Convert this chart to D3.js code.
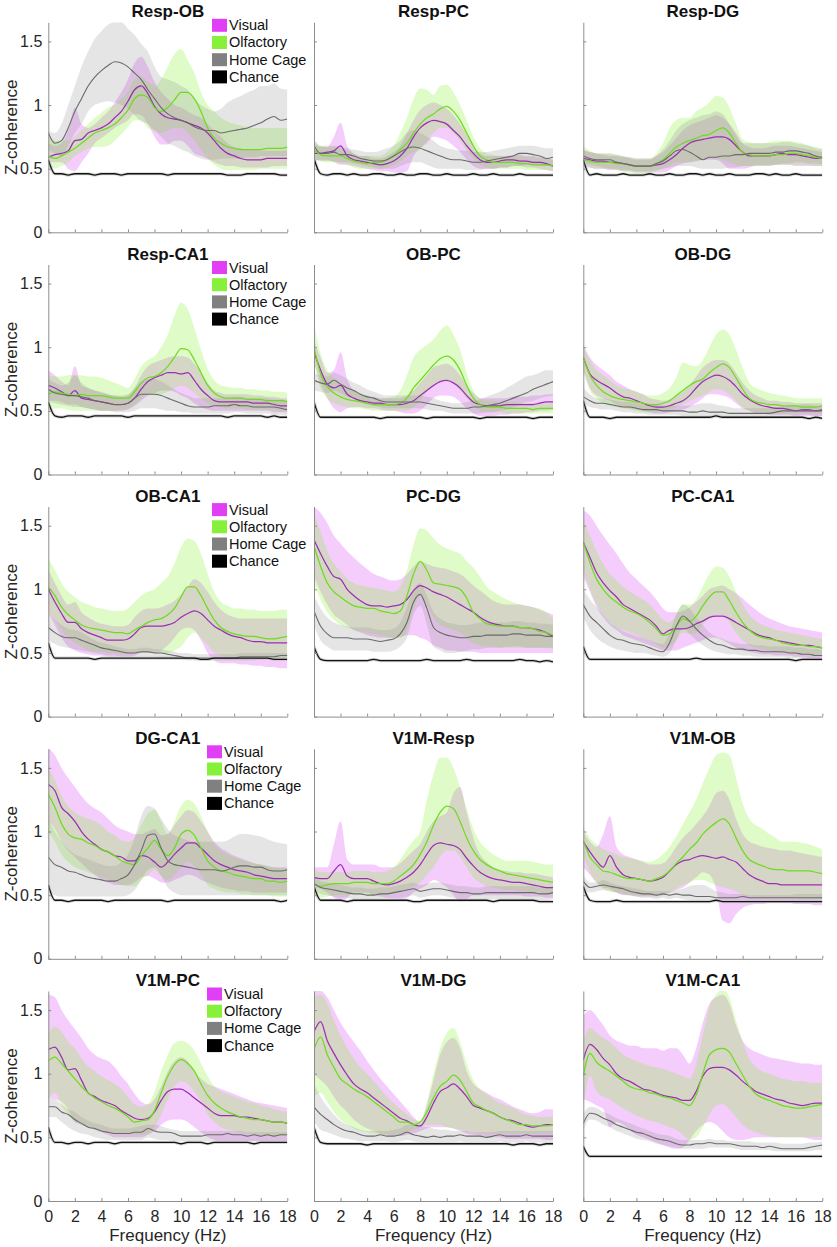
<!DOCTYPE html>
<html><head><meta charset="utf-8">
<script src="https://cdn.jsdelivr.net/npm/d3@7"></script>
<style>
html,body{margin:0;padding:0;background:#fff;}
svg{display:block;font-family:"Liberation Sans",Arial,Helvetica,sans-serif;}
</style></head>
<body>
<svg id="chart" width="837" height="1247"></svg>
<script>
// Frequency grid (Hz)
const freqs = [0,0.5,1,1.5,2,2.5,3,3.5,4,4.5,5,5.5,6,6.5,7,7.5,8,8.5,9,9.5,10,10.5,11,11.5,12,12.5,13,13.5,14,14.5,15,15.5,16,16.5,17,17.5,18];
const xTicks = [0,2,4,6,8,10,12,14,16,18];
const yTicks = [0,0.5,1,1.5];
const seriesNames = ["Visual","Olfactory","Home Cage","Chance"];
const panelTitles = ["Resp-OB","Resp-PC","Resp-DG","Resp-CA1","OB-PC","OB-DG","OB-CA1","PC-DG","PC-CA1","DG-CA1","V1M-Resp","V1M-OB","V1M-PC","V1M-DG","V1M-CA1"];

// ---- Resp-OB
const respOB_vis   = [0.59,0.61,0.62,0.64,0.72,0.73,0.78,0.80,0.82,0.85, 0.90,0.95,1.03,1.12,1.15,1.09,0.99,0.93,0.90,0.89, 0.88,0.86,0.84,0.82,0.78,0.72,0.66,0.62,0.60,0.58, 0.57,0.57,0.57,0.58,0.58,0.58,0.58];
const respOB_visHi = [0.70,0.68,0.70,0.80,0.98,0.85,0.82,0.85,0.90,0.95, 1.02,1.10,1.20,1.33,1.38,1.30,1.18,1.10,1.05,1.00, 0.98,0.95,0.92,0.90,0.85,0.80,0.75,0.70,0.67,0.66, 0.65,0.65,0.64,0.64,0.64,0.64,0.64];
const respOB_visLo = [0.55,0.55,0.55,0.50,0.48,0.55,0.62,0.70,0.74,0.78, 0.82,0.85,0.88,0.93,0.92,0.85,0.75,0.69,0.69,0.72, 0.72,0.68,0.62,0.60,0.58,0.55,0.53,0.52,0.52,0.51, 0.51,0.51,0.51,0.51,0.52,0.52,0.52];
const respOB_olf   = [0.60,0.58,0.60,0.63,0.66,0.70,0.74,0.78,0.80,0.82, 0.85,0.90,0.96,1.05,1.08,1.06,0.98,0.95,0.98,1.04, 1.10,1.10,1.05,0.95,0.82,0.74,0.70,0.67,0.66,0.65, 0.65,0.65,0.65,0.66,0.66,0.66,0.67];
const respOB_olfHi = [0.75,0.72,0.72,0.72,0.75,0.80,0.85,0.90,0.94,0.98, 1.00,1.05,1.10,1.20,1.22,1.18,1.15,1.20,1.30,1.40, 1.44,1.35,1.25,1.10,1.00,0.95,0.90,0.87,0.85,0.84, 0.83,0.82,0.82,0.82,0.82,0.82,0.82];
const respOB_olfLo = [0.52,0.50,0.52,0.55,0.60,0.63,0.66,0.67,0.67,0.68, 0.72,0.77,0.83,0.88,0.88,0.82,0.80,0.78,0.80,0.82, 0.82,0.78,0.72,0.65,0.58,0.53,0.50,0.49,0.49,0.49, 0.49,0.49,0.50,0.50,0.50,0.50,0.50];
const respOB_home  = [0.78,0.70,0.72,0.82,0.95,1.05,1.15,1.22,1.27,1.31, 1.34,1.33,1.30,1.25,1.20,1.12,1.05,0.98,0.93,0.90, 0.88,0.86,0.83,0.81,0.80,0.80,0.78,0.79,0.80,0.81, 0.82,0.84,0.86,0.89,0.91,0.88,0.89];
const respOB_homeHi= [0.80,0.78,0.85,1.00,1.15,1.30,1.42,1.52,1.58,1.63, 1.65,1.65,1.60,1.55,1.48,1.42,1.30,1.22,1.20,1.18, 1.15,1.12,1.05,1.00,0.97,0.95,0.97,1.02,1.05,1.07, 1.10,1.12,1.15,1.15,1.17,1.13,1.12];
const respOB_homeLo= [0.65,0.62,0.60,0.68,0.78,0.85,0.95,1.00,1.02,1.03, 1.02,1.00,0.97,0.92,0.87,0.85,0.80,0.75,0.70,0.68, 0.65,0.63,0.60,0.58,0.57,0.57,0.58,0.58,0.58,0.58, 0.59,0.59,0.60,0.60,0.60,0.60,0.60];
const respOB_chance= [0.57,0.46,0.46,0.45,0.46,0.46,0.46,0.45,0.46,0.46, 0.46,0.45,0.46,0.46,0.46,0.46,0.46,0.46,0.45,0.46, 0.46,0.46,0.46,0.46,0.46,0.46,0.46,0.45,0.45,0.45, 0.46,0.46,0.46,0.46,0.46,0.45,0.45];

// ---- Resp-PC
const respPC_vis   = [0.62,0.62,0.63,0.64,0.68,0.60,0.57,0.56,0.55,0.54, 0.53,0.54,0.56,0.60,0.66,0.75,0.82,0.86,0.88,0.87, 0.85,0.80,0.75,0.68,0.62,0.57,0.55,0.55,0.56,0.57, 0.57,0.56,0.56,0.55,0.55,0.54,0.52];
const respPC_visHi = [0.70,0.67,0.67,0.75,0.86,0.68,0.62,0.60,0.60,0.58, 0.58,0.60,0.63,0.68,0.78,0.88,0.96,1.00,1.02,1.00, 0.97,0.92,0.85,0.77,0.68,0.62,0.60,0.60,0.60,0.60, 0.61,0.61,0.60,0.60,0.59,0.58,0.57];
const respPC_visLo = [0.56,0.57,0.57,0.55,0.53,0.53,0.52,0.51,0.50,0.49, 0.48,0.48,0.47,0.47,0.48,0.60,0.66,0.70,0.75,0.74, 0.72,0.68,0.63,0.57,0.52,0.50,0.50,0.50,0.51,0.51, 0.52,0.52,0.51,0.51,0.50,0.49,0.48];
const respPC_olf   = [0.65,0.61,0.60,0.60,0.60,0.58,0.56,0.55,0.54,0.55, 0.55,0.57,0.60,0.65,0.70,0.78,0.85,0.90,0.93,0.97, 0.99,0.95,0.88,0.78,0.68,0.60,0.57,0.55,0.55,0.55, 0.55,0.54,0.54,0.53,0.53,0.53,0.52];
const respPC_olfHi = [0.72,0.68,0.67,0.67,0.66,0.64,0.62,0.60,0.60,0.60, 0.60,0.63,0.68,0.78,0.90,1.05,1.13,1.12,1.08,1.15, 1.16,1.10,1.00,0.88,0.75,0.66,0.62,0.61,0.60,0.60, 0.60,0.60,0.59,0.59,0.58,0.58,0.57];
const respPC_olfLo = [0.58,0.56,0.55,0.55,0.54,0.53,0.51,0.50,0.50,0.50, 0.50,0.51,0.53,0.56,0.60,0.63,0.66,0.72,0.78,0.82, 0.82,0.78,0.72,0.64,0.58,0.53,0.51,0.50,0.50,0.50, 0.50,0.50,0.49,0.49,0.49,0.49,0.48];
const respPC_home  = [0.68,0.62,0.62,0.63,0.61,0.61,0.60,0.58,0.57,0.56, 0.56,0.57,0.60,0.63,0.66,0.67,0.66,0.64,0.62,0.60, 0.58,0.57,0.57,0.56,0.55,0.55,0.56,0.57,0.58,0.59, 0.60,0.62,0.62,0.61,0.60,0.58,0.59];
const respPC_homeHi= [0.73,0.68,0.68,0.68,0.67,0.66,0.65,0.64,0.63,0.63, 0.64,0.66,0.68,0.72,0.78,0.80,0.78,0.75,0.72,0.68, 0.66,0.65,0.64,0.64,0.63,0.63,0.63,0.64,0.65,0.66, 0.67,0.68,0.68,0.68,0.67,0.66,0.66];
const respPC_homeLo= [0.58,0.56,0.56,0.56,0.55,0.55,0.54,0.53,0.52,0.51, 0.50,0.50,0.50,0.52,0.54,0.55,0.55,0.53,0.51,0.50, 0.50,0.50,0.50,0.49,0.49,0.49,0.50,0.50,0.51,0.51, 0.52,0.52,0.53,0.53,0.52,0.52,0.52];
const respPC_chance= [0.58,0.46,0.45,0.46,0.46,0.45,0.46,0.45,0.45,0.46, 0.46,0.45,0.45,0.46,0.45,0.45,0.46,0.46,0.45,0.45, 0.46,0.45,0.45,0.45,0.46,0.45,0.45,0.46,0.45,0.45, 0.45,0.46,0.45,0.45,0.45,0.45,0.45];

// ---- Resp-DG
const respDG_vis   = [0.58,0.57,0.56,0.56,0.55,0.55,0.54,0.53,0.52,0.52, 0.52,0.53,0.54,0.57,0.61,0.66,0.70,0.72,0.73,0.74, 0.75,0.75,0.73,0.68,0.63,0.60,0.60,0.60,0.60,0.61, 0.62,0.61,0.61,0.60,0.59,0.58,0.58];
const respDG_visHi = [0.65,0.63,0.62,0.61,0.60,0.60,0.59,0.59,0.58,0.58, 0.58,0.60,0.63,0.68,0.74,0.80,0.84,0.86,0.88,0.90, 0.92,0.90,0.85,0.78,0.70,0.67,0.66,0.66,0.67,0.68, 0.68,0.68,0.67,0.66,0.65,0.64,0.63];
const respDG_visLo = [0.52,0.51,0.50,0.50,0.49,0.49,0.48,0.48,0.47,0.47, 0.47,0.47,0.47,0.49,0.52,0.54,0.55,0.56,0.57,0.57, 0.57,0.54,0.50,0.50,0.50,0.51,0.52,0.52,0.52,0.53, 0.53,0.53,0.52,0.52,0.52,0.52,0.52];
const respDG_olf   = [0.57,0.56,0.55,0.55,0.55,0.54,0.54,0.53,0.52,0.52, 0.52,0.54,0.57,0.62,0.67,0.70,0.72,0.74,0.76,0.77, 0.80,0.82,0.78,0.70,0.63,0.61,0.60,0.60,0.60,0.61, 0.61,0.62,0.62,0.61,0.60,0.59,0.58];
const respDG_olfHi = [0.68,0.64,0.62,0.62,0.62,0.61,0.60,0.59,0.58,0.58, 0.58,0.62,0.70,0.82,0.88,0.90,0.90,0.95,0.98,1.02, 1.07,1.06,0.98,0.85,0.73,0.71,0.70,0.70,0.71,0.72, 0.72,0.72,0.71,0.70,0.68,0.67,0.66];
const respDG_olfLo = [0.52,0.51,0.50,0.50,0.50,0.49,0.48,0.47,0.46,0.46, 0.47,0.48,0.50,0.52,0.55,0.55,0.55,0.56,0.57,0.58, 0.58,0.57,0.55,0.53,0.52,0.52,0.52,0.52,0.52,0.53, 0.53,0.53,0.53,0.53,0.53,0.52,0.52];
const respDG_home  = [0.60,0.58,0.57,0.57,0.57,0.55,0.54,0.53,0.52,0.52, 0.52,0.54,0.56,0.60,0.64,0.65,0.63,0.60,0.57,0.59, 0.59,0.60,0.60,0.61,0.61,0.62,0.62,0.62,0.62,0.63, 0.63,0.64,0.64,0.63,0.62,0.60,0.59];
const respDG_homeHi= [0.64,0.63,0.62,0.62,0.62,0.61,0.60,0.58,0.57,0.57, 0.57,0.60,0.65,0.72,0.80,0.85,0.88,0.90,0.92,0.93, 0.95,0.93,0.85,0.76,0.70,0.70,0.70,0.70,0.70,0.70, 0.71,0.71,0.70,0.69,0.68,0.66,0.65];
const respDG_homeLo= [0.55,0.53,0.52,0.51,0.50,0.50,0.49,0.49,0.48,0.48, 0.48,0.49,0.50,0.51,0.52,0.52,0.52,0.51,0.50,0.50, 0.50,0.50,0.51,0.51,0.52,0.52,0.53,0.53,0.53,0.53, 0.54,0.54,0.55,0.55,0.54,0.54,0.53];
const respDG_chance= [0.57,0.45,0.46,0.45,0.45,0.45,0.46,0.45,0.45,0.45, 0.46,0.45,0.45,0.46,0.45,0.45,0.46,0.46,0.45,0.46, 0.45,0.45,0.46,0.45,0.45,0.45,0.46,0.46,0.45,0.46, 0.45,0.45,0.46,0.45,0.45,0.45,0.45];

// ---- Resp-CA1
const respCA1_vis   = [0.70,0.68,0.65,0.62,0.66,0.60,0.59,0.58,0.57,0.56, 0.55,0.55,0.56,0.60,0.67,0.73,0.76,0.78,0.80,0.80, 0.79,0.80,0.74,0.67,0.62,0.58,0.57,0.57,0.57,0.57, 0.57,0.56,0.56,0.56,0.55,0.54,0.54];
const respCA1_visHi = [0.82,0.78,0.73,0.70,0.85,0.70,0.68,0.66,0.65,0.63, 0.62,0.61,0.62,0.68,0.78,0.85,0.88,0.90,0.92,0.93, 0.93,0.92,0.87,0.80,0.72,0.66,0.64,0.63,0.63,0.63, 0.63,0.62,0.62,0.61,0.61,0.60,0.60];
const respCA1_visLo = [0.58,0.58,0.57,0.55,0.55,0.53,0.52,0.51,0.50,0.50, 0.50,0.50,0.51,0.54,0.58,0.62,0.64,0.66,0.66,0.65, 0.62,0.60,0.56,0.53,0.51,0.50,0.50,0.50,0.50,0.50, 0.50,0.50,0.50,0.50,0.49,0.49,0.49];
const respCA1_olf   = [0.63,0.65,0.64,0.63,0.62,0.63,0.62,0.62,0.62,0.61, 0.60,0.60,0.60,0.65,0.72,0.76,0.77,0.80,0.85,0.92, 0.99,0.98,0.90,0.80,0.70,0.64,0.61,0.60,0.60,0.60, 0.59,0.59,0.59,0.58,0.58,0.58,0.57];
const respCA1_olfHi = [0.78,0.77,0.77,0.78,0.78,0.78,0.77,0.77,0.76,0.74, 0.72,0.70,0.68,0.75,0.85,0.90,0.93,1.00,1.10,1.25, 1.35,1.30,1.15,0.98,0.83,0.74,0.70,0.69,0.68,0.68, 0.67,0.67,0.66,0.66,0.65,0.65,0.64];
const respCA1_olfLo = [0.50,0.52,0.52,0.51,0.50,0.50,0.50,0.50,0.50,0.50, 0.50,0.51,0.52,0.55,0.60,0.63,0.62,0.63,0.65,0.68, 0.70,0.68,0.64,0.60,0.56,0.54,0.53,0.52,0.52,0.52, 0.51,0.51,0.51,0.51,0.51,0.50,0.50];
const respCA1_home  = [0.67,0.64,0.63,0.62,0.62,0.61,0.60,0.58,0.57,0.56, 0.55,0.55,0.56,0.60,0.63,0.63,0.63,0.62,0.60,0.58, 0.56,0.54,0.53,0.53,0.53,0.54,0.54,0.54,0.55,0.54, 0.54,0.53,0.53,0.53,0.53,0.52,0.51];
const respCA1_homeHi= [0.75,0.72,0.70,0.72,0.78,0.72,0.68,0.66,0.64,0.63, 0.62,0.62,0.63,0.68,0.73,0.75,0.75,0.73,0.70,0.67, 0.64,0.62,0.60,0.60,0.60,0.60,0.60,0.60,0.61,0.61, 0.60,0.60,0.60,0.60,0.59,0.59,0.58];
const respCA1_homeLo= [0.58,0.56,0.55,0.54,0.53,0.53,0.52,0.51,0.50,0.50, 0.49,0.49,0.49,0.50,0.52,0.52,0.52,0.51,0.50,0.50, 0.49,0.49,0.48,0.48,0.48,0.48,0.48,0.48,0.49,0.49, 0.48,0.48,0.48,0.48,0.47,0.47,0.46];
const respCA1_chance= [0.57,0.46,0.45,0.46,0.46,0.46,0.45,0.46,0.46,0.46, 0.46,0.46,0.45,0.46,0.46,0.46,0.46,0.46,0.46,0.46, 0.46,0.46,0.46,0.46,0.46,0.46,0.46,0.45,0.46,0.46, 0.46,0.46,0.46,0.45,0.46,0.45,0.45];

// ---- OB-PC
const obPC_vis   = [0.96,0.82,0.71,0.68,0.70,0.63,0.60,0.58,0.57,0.56, 0.56,0.55,0.55,0.55,0.56,0.58,0.62,0.66,0.70,0.73, 0.74,0.72,0.68,0.62,0.57,0.55,0.54,0.54,0.54,0.55, 0.55,0.55,0.55,0.55,0.56,0.57,0.57];
const obPC_visHi = [1.05,0.92,0.80,0.82,0.96,0.75,0.66,0.63,0.62,0.61, 0.60,0.60,0.60,0.60,0.62,0.66,0.72,0.78,0.84,0.86, 0.87,0.84,0.78,0.70,0.64,0.60,0.60,0.60,0.60,0.60, 0.61,0.61,0.61,0.62,0.62,0.63,0.63];
const obPC_visLo = [0.88,0.72,0.60,0.52,0.49,0.52,0.53,0.53,0.52,0.52, 0.51,0.50,0.50,0.49,0.48,0.48,0.50,0.55,0.60,0.62, 0.62,0.61,0.57,0.52,0.48,0.46,0.46,0.46,0.47,0.47, 0.48,0.48,0.49,0.49,0.50,0.50,0.51];
const obPC_olf   = [1.00,0.79,0.69,0.64,0.61,0.59,0.58,0.57,0.56,0.55, 0.55,0.55,0.55,0.56,0.60,0.68,0.74,0.80,0.86,0.91, 0.93,0.90,0.82,0.70,0.60,0.55,0.53,0.53,0.53,0.52, 0.52,0.52,0.52,0.51,0.52,0.52,0.52];
const obPC_olfHi = [1.18,0.95,0.82,0.76,0.72,0.68,0.66,0.64,0.62,0.60, 0.60,0.60,0.61,0.66,0.78,0.92,0.98,1.02,1.06,1.13, 1.17,1.10,0.98,0.80,0.66,0.60,0.58,0.58,0.57,0.57, 0.57,0.56,0.56,0.56,0.56,0.56,0.56];
const obPC_olfLo = [0.88,0.68,0.60,0.56,0.54,0.53,0.52,0.52,0.51,0.50, 0.50,0.50,0.50,0.50,0.50,0.53,0.58,0.65,0.70,0.73, 0.74,0.72,0.66,0.60,0.54,0.50,0.49,0.49,0.49,0.48, 0.48,0.48,0.48,0.48,0.48,0.48,0.48];
const obPC_home  = [0.74,0.72,0.71,0.74,0.71,0.68,0.66,0.63,0.61,0.60, 0.58,0.57,0.57,0.57,0.57,0.57,0.57,0.56,0.55,0.54, 0.53,0.52,0.52,0.52,0.53,0.53,0.54,0.55,0.56,0.58, 0.60,0.62,0.64,0.67,0.69,0.71,0.73];
const obPC_homeHi= [0.80,0.78,0.77,0.80,0.78,0.75,0.72,0.70,0.67,0.65, 0.63,0.62,0.62,0.62,0.62,0.62,0.62,0.61,0.60,0.58, 0.57,0.56,0.56,0.57,0.58,0.59,0.61,0.63,0.65,0.68, 0.71,0.74,0.77,0.78,0.80,0.82,0.82];
const obPC_homeLo= [0.66,0.65,0.64,0.66,0.64,0.61,0.60,0.57,0.55,0.54, 0.53,0.52,0.52,0.52,0.52,0.52,0.52,0.51,0.50,0.50, 0.49,0.48,0.48,0.48,0.48,0.48,0.49,0.49,0.50,0.51, 0.53,0.55,0.57,0.58,0.60,0.61,0.62];
const obPC_chance= [0.57,0.45,0.45,0.45,0.45,0.45,0.45,0.45,0.45,0.45, 0.44,0.45,0.45,0.45,0.45,0.45,0.45,0.44,0.45,0.45, 0.45,0.45,0.45,0.45,0.45,0.44,0.45,0.45,0.45,0.45, 0.45,0.45,0.45,0.44,0.45,0.45,0.45];

// ---- OB-DG
const obDG_vis   = [0.92,0.79,0.74,0.71,0.68,0.64,0.61,0.60,0.58,0.56, 0.54,0.53,0.53,0.54,0.56,0.58,0.62,0.68,0.73,0.76, 0.78,0.77,0.74,0.69,0.63,0.59,0.56,0.54,0.53,0.52, 0.52,0.51,0.50,0.50,0.50,0.50,0.51];
const obDG_visHi = [1.02,0.92,0.86,0.82,0.78,0.73,0.70,0.67,0.65,0.63, 0.60,0.59,0.58,0.59,0.62,0.65,0.70,0.77,0.84,0.88, 0.90,0.90,0.87,0.80,0.72,0.66,0.62,0.60,0.58,0.58, 0.57,0.57,0.56,0.56,0.56,0.56,0.56];
const obDG_visLo = [0.82,0.68,0.62,0.60,0.58,0.55,0.53,0.52,0.51,0.50, 0.49,0.48,0.48,0.49,0.50,0.51,0.53,0.56,0.60,0.63, 0.63,0.62,0.60,0.56,0.52,0.50,0.48,0.48,0.47,0.47, 0.47,0.47,0.46,0.46,0.46,0.46,0.46];
const obDG_olf   = [0.92,0.78,0.70,0.65,0.62,0.60,0.59,0.58,0.57,0.56, 0.55,0.55,0.56,0.58,0.62,0.66,0.70,0.73,0.75,0.80, 0.84,0.87,0.84,0.76,0.67,0.60,0.57,0.56,0.55,0.55, 0.54,0.54,0.54,0.53,0.53,0.53,0.54];
const obDG_olfHi = [1.00,0.90,0.82,0.78,0.74,0.70,0.68,0.67,0.65,0.63, 0.62,0.62,0.64,0.68,0.76,0.88,0.86,0.85,0.90,1.00, 1.10,1.14,1.10,0.98,0.84,0.72,0.68,0.66,0.64,0.63, 0.62,0.61,0.60,0.60,0.60,0.60,0.60];
const obDG_olfLo = [0.82,0.66,0.60,0.56,0.54,0.53,0.52,0.51,0.50,0.49, 0.49,0.49,0.50,0.51,0.53,0.55,0.58,0.60,0.62,0.65, 0.67,0.66,0.63,0.58,0.53,0.50,0.49,0.49,0.48,0.48, 0.48,0.48,0.48,0.48,0.48,0.48,0.48];
const obDG_home  = [0.61,0.58,0.56,0.56,0.55,0.54,0.53,0.53,0.52,0.51, 0.51,0.51,0.50,0.50,0.50,0.50,0.49,0.49,0.50,0.49, 0.49,0.49,0.48,0.48,0.48,0.48,0.48,0.48,0.48,0.49, 0.50,0.50,0.50,0.51,0.51,0.50,0.50];
const obDG_homeHi= [0.68,0.63,0.60,0.60,0.59,0.58,0.57,0.57,0.56,0.55, 0.55,0.55,0.54,0.54,0.54,0.54,0.54,0.55,0.56,0.56, 0.55,0.54,0.53,0.52,0.52,0.52,0.52,0.52,0.52,0.53, 0.53,0.54,0.54,0.55,0.55,0.54,0.54];
const obDG_homeLo= [0.56,0.53,0.52,0.51,0.51,0.50,0.49,0.49,0.48,0.48, 0.47,0.47,0.47,0.47,0.47,0.46,0.46,0.45,0.45,0.45, 0.45,0.45,0.44,0.44,0.44,0.44,0.44,0.44,0.45,0.45, 0.46,0.46,0.46,0.47,0.47,0.46,0.46];
const obDG_chance= [0.58,0.45,0.45,0.45,0.44,0.45,0.45,0.45,0.45,0.45, 0.45,0.45,0.45,0.45,0.45,0.45,0.45,0.45,0.45,0.45, 0.46,0.45,0.45,0.45,0.45,0.45,0.45,0.45,0.45,0.45, 0.45,0.45,0.45,0.45,0.44,0.45,0.44];

// ---- OB-CA1
const obCA1_vis   = [1.00,0.90,0.81,0.74,0.74,0.69,0.66,0.64,0.62,0.60, 0.60,0.60,0.61,0.65,0.70,0.71,0.71,0.71,0.72,0.74, 0.78,0.81,0.83,0.81,0.76,0.71,0.68,0.65,0.63,0.62, 0.60,0.59,0.59,0.58,0.58,0.58,0.58];
const obCA1_visHi = [1.15,1.05,0.95,0.88,0.90,0.82,0.78,0.75,0.73,0.72, 0.71,0.71,0.72,0.78,0.83,0.85,0.85,0.86,0.88,0.91, 0.96,1.02,1.08,1.05,0.98,0.90,0.84,0.80,0.78,0.77, 0.77,0.77,0.77,0.77,0.77,0.77,0.77];
const obCA1_visLo = [0.82,0.72,0.62,0.55,0.52,0.50,0.49,0.48,0.48,0.47, 0.47,0.47,0.47,0.48,0.50,0.50,0.50,0.52,0.56,0.62, 0.68,0.70,0.68,0.60,0.50,0.44,0.42,0.42,0.42,0.41, 0.41,0.40,0.40,0.39,0.39,0.38,0.38];
const obCA1_olf   = [1.02,0.95,0.86,0.80,0.76,0.72,0.70,0.69,0.68,0.67, 0.66,0.66,0.65,0.68,0.71,0.74,0.76,0.77,0.80,0.85, 0.94,1.02,1.02,0.95,0.85,0.76,0.70,0.67,0.65,0.64, 0.63,0.63,0.62,0.61,0.61,0.62,0.63];
const obCA1_olfHi = [1.24,1.15,1.05,0.98,0.94,0.90,0.88,0.86,0.85,0.84, 0.83,0.83,0.85,0.90,0.95,0.98,1.00,1.05,1.10,1.20, 1.33,1.40,1.38,1.28,1.12,0.98,0.90,0.87,0.85,0.85, 0.84,0.84,0.83,0.83,0.83,0.84,0.84];
const obCA1_olfLo = [0.82,0.76,0.68,0.62,0.58,0.55,0.52,0.51,0.51,0.50, 0.50,0.49,0.49,0.50,0.50,0.50,0.50,0.50,0.50,0.52, 0.55,0.62,0.66,0.62,0.56,0.50,0.48,0.47,0.47,0.46, 0.46,0.46,0.45,0.45,0.45,0.45,0.45];
const obCA1_home  = [0.70,0.66,0.63,0.62,0.62,0.60,0.58,0.56,0.54,0.53, 0.52,0.51,0.50,0.50,0.51,0.51,0.50,0.50,0.49,0.48, 0.47,0.46,0.46,0.46,0.46,0.46,0.46,0.46,0.46,0.47, 0.47,0.47,0.47,0.47,0.47,0.48,0.48];
const obCA1_homeHi= [0.82,0.76,0.72,0.69,0.68,0.66,0.63,0.60,0.58,0.57, 0.55,0.54,0.53,0.53,0.54,0.54,0.53,0.53,0.52,0.51, 0.50,0.50,0.49,0.49,0.49,0.49,0.49,0.49,0.49,0.50, 0.50,0.50,0.50,0.50,0.50,0.50,0.50];
const obCA1_homeLo= [0.60,0.57,0.55,0.54,0.53,0.52,0.51,0.50,0.49,0.48, 0.48,0.47,0.47,0.47,0.47,0.47,0.47,0.46,0.46,0.45, 0.45,0.44,0.44,0.44,0.44,0.44,0.44,0.44,0.44,0.44, 0.44,0.44,0.45,0.45,0.45,0.45,0.45];
const obCA1_chance= [0.58,0.46,0.46,0.46,0.46,0.46,0.46,0.45,0.46,0.46, 0.46,0.46,0.46,0.46,0.46,0.46,0.46,0.46,0.46,0.46, 0.46,0.46,0.46,0.45,0.45,0.46,0.46,0.46,0.46,0.46, 0.46,0.46,0.46,0.46,0.45,0.45,0.45];

// ---- PC-DG
const pcDG_vis   = [1.39,1.28,1.18,1.10,1.08,1.00,0.95,0.91,0.88,0.87, 0.87,0.86,0.87,0.88,0.92,0.99,1.03,1.01,0.98,0.96, 0.94,0.91,0.88,0.85,0.82,0.78,0.75,0.73,0.72,0.71, 0.71,0.70,0.70,0.69,0.68,0.66,0.63];
const pcDG_visHi = [1.65,1.60,1.52,1.42,1.36,1.30,1.25,1.20,1.16,1.12, 1.10,1.08,1.07,1.08,1.12,1.18,1.22,1.20,1.18,1.17, 1.16,1.14,1.12,1.08,1.03,0.99,0.95,0.91,0.89,0.88, 0.88,0.88,0.87,0.86,0.84,0.82,0.80];
const pcDG_visLo = [1.10,0.98,0.88,0.80,0.76,0.72,0.68,0.66,0.64,0.63, 0.62,0.62,0.62,0.63,0.64,0.64,0.62,0.60,0.56,0.54, 0.52,0.52,0.51,0.51,0.51,0.50,0.50,0.50,0.50,0.50, 0.50,0.50,0.50,0.50,0.50,0.50,0.50];
const pcDG_olf   = [1.34,1.18,1.05,0.98,0.94,0.90,0.87,0.86,0.85,0.85, 0.83,0.82,0.81,0.83,0.95,1.12,1.22,1.15,1.05,1.04, 1.03,1.02,1.00,0.93,0.82,0.77,0.73,0.72,0.71,0.71, 0.71,0.70,0.70,0.69,0.67,0.66,0.64];
const pcDG_olfHi = [1.60,1.45,1.30,1.20,1.14,1.08,1.05,1.03,1.02,1.01, 1.00,0.99,0.98,1.02,1.15,1.35,1.48,1.46,1.40,1.35, 1.32,1.30,1.28,1.22,1.17,1.10,1.02,0.98,0.95,0.92, 0.90,0.88,0.87,0.86,0.85,0.82,0.77];
const pcDG_olfLo = [1.05,0.92,0.82,0.76,0.72,0.70,0.68,0.67,0.66,0.65, 0.64,0.63,0.62,0.62,0.68,0.85,0.95,0.88,0.78,0.72, 0.70,0.68,0.66,0.62,0.58,0.56,0.55,0.55,0.54,0.54, 0.54,0.54,0.54,0.54,0.54,0.54,0.53];
const pcDG_home  = [0.83,0.71,0.65,0.62,0.62,0.62,0.61,0.61,0.61,0.60, 0.59,0.60,0.61,0.65,0.74,0.90,0.96,0.85,0.70,0.66, 0.64,0.63,0.62,0.62,0.63,0.63,0.64,0.64,0.64,0.64, 0.65,0.65,0.64,0.64,0.64,0.63,0.63];
const pcDG_homeHi= [0.95,0.85,0.78,0.74,0.72,0.71,0.70,0.70,0.70,0.69, 0.68,0.68,0.69,0.74,0.86,1.00,1.05,0.95,0.82,0.77, 0.74,0.73,0.72,0.72,0.73,0.74,0.74,0.74,0.74,0.74, 0.75,0.75,0.74,0.74,0.73,0.73,0.72];
const pcDG_homeLo= [0.72,0.60,0.55,0.52,0.52,0.52,0.52,0.52,0.52,0.51, 0.51,0.51,0.52,0.55,0.62,0.80,0.87,0.72,0.55,0.52, 0.50,0.50,0.51,0.52,0.53,0.53,0.54,0.54,0.54,0.55, 0.55,0.55,0.54,0.54,0.54,0.54,0.54];
const pcDG_chance= [0.55,0.45,0.44,0.44,0.44,0.44,0.44,0.44,0.44,0.45, 0.44,0.44,0.44,0.44,0.44,0.44,0.44,0.45,0.44,0.44, 0.44,0.44,0.44,0.45,0.44,0.44,0.44,0.44,0.44,0.44, 0.44,0.45,0.44,0.44,0.43,0.44,0.43];

// ---- PC-CA1
const pcCA1_vis   = [1.37,1.25,1.13,1.05,0.99,0.94,0.88,0.85,0.82,0.79, 0.76,0.71,0.65,0.68,0.69,0.69,0.70,0.73,0.75,0.78, 0.79,0.79,0.77,0.74,0.71,0.68,0.65,0.63,0.62,0.60, 0.59,0.58,0.57,0.56,0.56,0.55,0.54];
const pcCA1_visHi = [1.62,1.58,1.50,1.42,1.35,1.28,1.20,1.13,1.08,1.03, 0.98,0.92,0.85,0.82,0.82,0.83,0.86,0.90,0.95,1.00, 1.02,1.03,1.00,0.97,0.93,0.88,0.84,0.80,0.77,0.75, 0.73,0.71,0.70,0.69,0.68,0.67,0.66];
const pcCA1_visLo = [1.10,0.98,0.86,0.78,0.72,0.68,0.64,0.62,0.60,0.58, 0.56,0.54,0.52,0.52,0.52,0.54,0.56,0.58,0.60,0.62, 0.62,0.60,0.57,0.54,0.52,0.51,0.50,0.49,0.49,0.48, 0.48,0.48,0.47,0.47,0.46,0.46,0.46];
const pcCA1_olf   = [1.37,1.21,1.08,1.00,0.94,0.90,0.86,0.83,0.81,0.78, 0.74,0.69,0.64,0.65,0.71,0.77,0.75,0.79,0.87,0.94, 0.98,0.98,0.91,0.82,0.74,0.68,0.64,0.62,0.61,0.60, 0.58,0.57,0.56,0.56,0.55,0.55,0.54];
const pcCA1_olfHi = [1.55,1.42,1.30,1.20,1.12,1.07,1.02,0.98,0.95,0.92, 0.88,0.82,0.76,0.74,0.80,0.88,0.88,0.92,1.02,1.12, 1.18,1.17,1.10,0.98,0.88,0.80,0.75,0.72,0.70,0.68, 0.67,0.66,0.65,0.64,0.63,0.62,0.61];
const pcCA1_olfLo = [1.15,1.00,0.88,0.80,0.74,0.70,0.68,0.66,0.64,0.62, 0.60,0.57,0.54,0.55,0.60,0.66,0.65,0.66,0.72,0.77, 0.80,0.80,0.74,0.66,0.60,0.56,0.54,0.53,0.52,0.51, 0.50,0.50,0.49,0.49,0.48,0.48,0.48];
const pcCA1_home  = [0.88,0.79,0.74,0.69,0.64,0.61,0.60,0.58,0.57,0.56, 0.54,0.52,0.51,0.58,0.71,0.79,0.75,0.69,0.64,0.60, 0.57,0.56,0.54,0.53,0.53,0.52,0.52,0.51,0.51,0.51, 0.51,0.50,0.50,0.49,0.49,0.48,0.48];
const pcCA1_homeHi= [1.00,0.92,0.86,0.80,0.74,0.70,0.67,0.65,0.63,0.62, 0.60,0.58,0.57,0.66,0.80,0.88,0.85,0.78,0.72,0.66, 0.63,0.61,0.59,0.58,0.57,0.57,0.56,0.56,0.55,0.55, 0.55,0.55,0.54,0.54,0.53,0.53,0.52];
const pcCA1_homeLo= [0.78,0.68,0.62,0.58,0.55,0.53,0.52,0.51,0.50,0.50, 0.49,0.48,0.47,0.50,0.60,0.70,0.65,0.60,0.56,0.53, 0.51,0.50,0.49,0.49,0.48,0.48,0.47,0.47,0.47,0.47, 0.47,0.46,0.46,0.46,0.45,0.45,0.44];
const pcCA1_chance= [0.55,0.45,0.45,0.45,0.45,0.45,0.45,0.45,0.45,0.45, 0.45,0.45,0.45,0.45,0.45,0.45,0.45,0.46,0.45,0.45, 0.45,0.45,0.45,0.45,0.45,0.45,0.45,0.45,0.45,0.45, 0.45,0.45,0.44,0.45,0.45,0.45,0.45];

// ---- DG-CA1
const dgCA1_vis   = [1.37,1.32,1.19,1.14,1.08,1.00,0.94,0.90,0.86,0.84, 0.81,0.80,0.77,0.77,0.81,0.80,0.76,0.72,0.76,0.82, 0.87,0.91,0.91,0.87,0.82,0.77,0.74,0.72,0.70,0.69, 0.68,0.66,0.65,0.64,0.63,0.63,0.63];
const dgCA1_visHi = [1.66,1.60,1.50,1.42,1.35,1.28,1.22,1.18,1.15,1.10, 1.05,1.02,1.00,0.98,0.98,1.00,1.02,0.97,0.98,1.05, 1.12,1.17,1.15,1.08,1.00,0.92,0.87,0.84,0.81,0.79, 0.77,0.75,0.74,0.73,0.72,0.72,0.72];
const dgCA1_visLo = [1.08,1.02,0.92,0.85,0.80,0.75,0.70,0.66,0.62,0.60, 0.58,0.58,0.58,0.60,0.64,0.65,0.63,0.60,0.60,0.62, 0.64,0.66,0.65,0.62,0.60,0.58,0.56,0.55,0.54,0.53, 0.53,0.52,0.52,0.52,0.52,0.52,0.52];
const dgCA1_olf   = [1.29,1.19,1.06,0.98,0.95,0.94,0.91,0.89,0.86,0.84, 0.81,0.77,0.75,0.74,0.81,0.87,0.93,0.86,0.81,0.87, 0.98,1.01,0.97,0.87,0.77,0.72,0.69,0.68,0.66,0.65, 0.64,0.63,0.63,0.61,0.61,0.60,0.61];
const dgCA1_olfHi = [1.50,1.40,1.28,1.20,1.15,1.12,1.10,1.08,1.05,1.00, 0.97,0.93,0.92,0.95,1.05,1.14,1.17,1.08,0.98,1.08, 1.20,1.25,1.22,1.12,1.00,0.90,0.85,0.82,0.80,0.78, 0.76,0.75,0.74,0.73,0.72,0.71,0.71];
const dgCA1_olfLo = [1.00,0.92,0.82,0.76,0.72,0.70,0.68,0.66,0.64,0.62, 0.60,0.58,0.57,0.57,0.62,0.66,0.70,0.65,0.62,0.66, 0.72,0.76,0.73,0.66,0.58,0.55,0.53,0.52,0.52,0.51, 0.51,0.50,0.50,0.50,0.49,0.49,0.49];
const dgCA1_home  = [0.80,0.74,0.72,0.69,0.68,0.66,0.64,0.63,0.62,0.61, 0.61,0.63,0.66,0.74,0.85,0.97,0.98,0.87,0.77,0.74, 0.73,0.72,0.71,0.70,0.70,0.70,0.69,0.70,0.72,0.73, 0.73,0.72,0.72,0.70,0.69,0.69,0.70];
const dgCA1_homeHi= [1.10,1.00,0.92,0.86,0.82,0.80,0.78,0.76,0.74,0.73, 0.73,0.76,0.82,0.95,1.12,1.20,1.18,1.10,1.02,0.97, 0.95,0.93,0.92,0.92,0.92,0.92,0.92,0.93,0.96,0.98, 0.98,0.97,0.96,0.94,0.92,0.91,0.90];
const dgCA1_homeLo= [0.55,0.50,0.49,0.49,0.49,0.49,0.49,0.49,0.49,0.49, 0.49,0.49,0.50,0.54,0.62,0.70,0.72,0.65,0.56,0.52, 0.50,0.50,0.50,0.50,0.50,0.50,0.50,0.50,0.50,0.50, 0.50,0.50,0.50,0.50,0.50,0.50,0.50];
const dgCA1_chance= [0.58,0.46,0.46,0.45,0.46,0.46,0.46,0.46,0.46,0.45, 0.46,0.46,0.46,0.46,0.46,0.46,0.46,0.46,0.45,0.46, 0.46,0.46,0.46,0.46,0.46,0.46,0.46,0.46,0.46,0.46, 0.46,0.46,0.46,0.46,0.46,0.45,0.46];

// ---- V1M-Resp
const v1mResp_vis   = [0.64,0.63,0.63,0.69,0.74,0.65,0.63,0.63,0.63,0.61, 0.59,0.58,0.59,0.61,0.64,0.68,0.74,0.82,0.89,0.91, 0.90,0.89,0.86,0.79,0.73,0.68,0.65,0.63,0.62,0.61, 0.60,0.60,0.59,0.58,0.57,0.56,0.56];
const v1mResp_visHi = [0.72,0.72,0.72,0.90,1.08,0.78,0.74,0.74,0.74,0.74, 0.72,0.72,0.72,0.75,0.80,0.85,0.90,1.00,1.08,1.12, 1.15,1.30,1.35,1.15,0.95,0.82,0.76,0.72,0.70,0.69, 0.68,0.68,0.67,0.67,0.66,0.65,0.64];
const v1mResp_visLo = [0.56,0.55,0.52,0.48,0.45,0.48,0.52,0.52,0.52,0.50, 0.49,0.48,0.47,0.47,0.48,0.52,0.55,0.58,0.62,0.60, 0.56,0.50,0.45,0.47,0.50,0.50,0.50,0.50,0.50,0.50, 0.50,0.50,0.49,0.49,0.49,0.48,0.48];
const v1mResp_olf   = [0.59,0.57,0.58,0.59,0.59,0.59,0.60,0.60,0.60,0.59, 0.59,0.59,0.61,0.65,0.69,0.74,0.82,0.92,1.05,1.15, 1.20,1.18,1.08,0.95,0.85,0.78,0.74,0.71,0.69,0.67, 0.66,0.65,0.64,0.63,0.62,0.61,0.60];
const v1mResp_olfHi = [0.70,0.68,0.68,0.68,0.68,0.68,0.69,0.69,0.69,0.68, 0.68,0.69,0.72,0.78,0.86,0.93,1.00,1.25,1.45,1.58, 1.58,1.50,1.35,1.18,1.02,0.92,0.86,0.82,0.79,0.77, 0.77,0.77,0.77,0.76,0.75,0.74,0.74];
const v1mResp_olfLo = [0.50,0.48,0.49,0.50,0.50,0.50,0.51,0.51,0.51,0.50, 0.50,0.51,0.52,0.53,0.55,0.57,0.60,0.66,0.72,0.80, 0.85,0.85,0.80,0.72,0.64,0.60,0.57,0.56,0.55,0.54, 0.54,0.53,0.53,0.52,0.52,0.51,0.50];
const v1mResp_home  = [0.59,0.56,0.55,0.54,0.53,0.52,0.51,0.51,0.50,0.50, 0.51,0.51,0.52,0.53,0.54,0.55,0.53,0.54,0.55,0.55, 0.54,0.53,0.52,0.52,0.51,0.51,0.52,0.52,0.52,0.52, 0.52,0.52,0.52,0.52,0.51,0.51,0.52];
const v1mResp_homeHi= [0.64,0.61,0.60,0.59,0.58,0.57,0.56,0.56,0.55,0.55, 0.56,0.56,0.57,0.58,0.59,0.60,0.58,0.59,0.60,0.60, 0.59,0.58,0.57,0.57,0.56,0.56,0.57,0.57,0.57,0.57, 0.57,0.57,0.57,0.57,0.56,0.56,0.57];
const v1mResp_homeLo= [0.54,0.51,0.50,0.49,0.48,0.48,0.47,0.47,0.46,0.46, 0.47,0.47,0.48,0.48,0.49,0.50,0.48,0.49,0.50,0.50, 0.49,0.48,0.47,0.47,0.46,0.46,0.47,0.47,0.47,0.47, 0.47,0.47,0.47,0.47,0.46,0.46,0.47];
const v1mResp_chance= [0.57,0.46,0.46,0.46,0.46,0.45,0.46,0.46,0.46,0.46, 0.46,0.46,0.46,0.46,0.46,0.45,0.45,0.46,0.46,0.46, 0.46,0.46,0.46,0.46,0.46,0.46,0.46,0.45,0.46,0.46, 0.46,0.46,0.46,0.46,0.45,0.45,0.45];

// ---- V1M-OB
const v1mOB_vis   = [0.92,0.84,0.77,0.72,0.81,0.72,0.66,0.64,0.63,0.62, 0.61,0.62,0.64,0.69,0.74,0.77,0.78,0.80,0.81,0.80, 0.79,0.80,0.78,0.76,0.71,0.66,0.63,0.61,0.59,0.59, 0.58,0.58,0.58,0.58,0.58,0.58,0.58];
const v1mOB_visHi = [1.00,0.92,0.88,0.98,1.12,0.88,0.82,0.80,0.78,0.76, 0.74,0.74,0.75,0.80,0.88,0.95,1.00,1.06,1.12,1.20, 1.30,1.32,1.25,1.10,0.98,0.92,0.90,0.88,0.87,0.86, 0.85,0.85,0.84,0.83,0.82,0.81,0.80];
const v1mOB_visLo = [0.72,0.66,0.60,0.56,0.55,0.52,0.50,0.50,0.49,0.49, 0.49,0.49,0.50,0.52,0.54,0.56,0.60,0.64,0.68,0.66, 0.55,0.30,0.28,0.35,0.40,0.42,0.43,0.43,0.44,0.44, 0.44,0.44,0.43,0.43,0.43,0.42,0.42];
const v1mOB_olf   = [0.93,0.80,0.74,0.69,0.68,0.66,0.64,0.63,0.63,0.62, 0.61,0.63,0.65,0.69,0.75,0.80,0.86,0.91,0.98,1.03, 1.07,1.10,1.06,0.95,0.85,0.78,0.75,0.73,0.71,0.70, 0.70,0.69,0.69,0.69,0.69,0.68,0.67];
const v1mOB_olfHi = [1.03,0.95,0.90,0.86,0.84,0.82,0.80,0.79,0.78,0.77, 0.76,0.78,0.82,0.88,0.96,1.06,1.15,1.25,1.38,1.50, 1.60,1.62,1.60,1.42,1.22,1.10,1.05,1.02,0.98,0.95, 0.92,0.92,0.92,0.91,0.90,0.88,0.86];
const v1mOB_olfLo = [0.82,0.68,0.60,0.55,0.53,0.52,0.51,0.50,0.50,0.50, 0.50,0.50,0.50,0.52,0.55,0.58,0.60,0.62,0.62,0.60, 0.58,0.56,0.55,0.53,0.50,0.49,0.49,0.48,0.48,0.48, 0.48,0.48,0.48,0.47,0.47,0.47,0.47];
const v1mOB_home  = [0.61,0.56,0.57,0.58,0.57,0.56,0.55,0.53,0.52,0.51, 0.51,0.50,0.51,0.50,0.51,0.50,0.50,0.49,0.49,0.49, 0.48,0.48,0.48,0.48,0.49,0.48,0.48,0.48,0.48,0.48, 0.48,0.48,0.48,0.48,0.48,0.48,0.48];
const v1mOB_homeHi= [0.66,0.60,0.60,0.62,0.60,0.58,0.57,0.56,0.55,0.54, 0.53,0.53,0.53,0.53,0.54,0.55,0.57,0.58,0.58,0.56, 0.53,0.52,0.51,0.51,0.51,0.50,0.50,0.50,0.50,0.50, 0.50,0.50,0.51,0.51,0.51,0.51,0.51];
const v1mOB_homeLo= [0.55,0.52,0.53,0.54,0.53,0.52,0.51,0.50,0.49,0.48, 0.48,0.47,0.48,0.47,0.48,0.47,0.46,0.45,0.45,0.45, 0.45,0.45,0.45,0.45,0.46,0.45,0.45,0.45,0.45,0.45, 0.45,0.45,0.45,0.45,0.45,0.45,0.45];
const v1mOB_chance= [0.57,0.46,0.45,0.45,0.45,0.46,0.45,0.45,0.45,0.45, 0.45,0.45,0.45,0.45,0.45,0.45,0.45,0.45,0.45,0.45, 0.46,0.45,0.45,0.45,0.45,0.45,0.45,0.45,0.45,0.45, 0.45,0.45,0.45,0.45,0.45,0.45,0.45];

// ---- V1M-PC
const v1mPC_vis   = [1.19,1.21,1.13,1.03,1.04,0.95,0.85,0.82,0.79,0.77, 0.75,0.71,0.68,0.65,0.64,0.65,0.70,0.79,0.86,0.88, 0.88,0.85,0.81,0.77,0.73,0.69,0.67,0.67,0.67,0.66, 0.66,0.65,0.64,0.63,0.62,0.62,0.61];
const v1mPC_visHi = [1.62,1.60,1.50,1.42,1.35,1.28,1.20,1.15,1.12,1.10, 1.05,0.98,0.92,0.84,0.78,0.76,0.80,0.90,1.02,1.10, 1.13,1.10,1.02,0.96,0.92,0.90,0.88,0.86,0.84,0.82, 0.80,0.78,0.77,0.76,0.75,0.74,0.73];
const v1mPC_visLo = [0.82,0.80,0.78,0.72,0.62,0.60,0.58,0.56,0.54,0.52, 0.50,0.50,0.50,0.50,0.50,0.52,0.55,0.60,0.63,0.64, 0.64,0.62,0.58,0.54,0.50,0.48,0.47,0.47,0.47,0.47, 0.47,0.47,0.47,0.47,0.47,0.47,0.47];
const v1mPC_olf   = [1.10,1.13,1.08,1.02,0.96,0.90,0.85,0.81,0.78,0.75, 0.73,0.70,0.66,0.62,0.63,0.64,0.71,0.85,0.98,1.07, 1.11,1.08,1.02,0.92,0.83,0.77,0.73,0.70,0.68,0.66, 0.65,0.64,0.64,0.63,0.62,0.62,0.61];
const v1mPC_olfHi = [1.32,1.37,1.33,1.25,1.20,1.12,1.06,1.02,0.98,0.95, 0.92,0.88,0.82,0.76,0.74,0.76,0.86,1.02,1.15,1.24, 1.26,1.24,1.18,1.08,0.98,0.90,0.86,0.84,0.82,0.80, 0.78,0.77,0.75,0.74,0.72,0.71,0.70];
const v1mPC_olfLo = [0.80,0.85,0.75,0.68,0.62,0.60,0.58,0.56,0.55,0.54, 0.53,0.53,0.53,0.52,0.52,0.53,0.58,0.68,0.80,0.90, 0.94,0.92,0.86,0.78,0.68,0.62,0.58,0.56,0.55,0.54, 0.53,0.52,0.52,0.51,0.51,0.51,0.51];
const v1mPC_home  = [0.74,0.74,0.70,0.68,0.64,0.61,0.58,0.57,0.55,0.54, 0.53,0.53,0.53,0.54,0.54,0.57,0.55,0.54,0.54,0.53, 0.51,0.51,0.51,0.51,0.52,0.52,0.52,0.53,0.52,0.52, 0.51,0.52,0.51,0.52,0.51,0.52,0.52];
const v1mPC_homeHi= [0.82,0.80,0.76,0.72,0.70,0.66,0.63,0.61,0.60,0.58, 0.57,0.57,0.57,0.58,0.59,0.60,0.60,0.59,0.57,0.56, 0.55,0.55,0.55,0.55,0.55,0.55,0.55,0.55,0.55,0.55, 0.54,0.54,0.54,0.54,0.54,0.54,0.54];
const v1mPC_homeLo= [0.66,0.66,0.62,0.58,0.55,0.53,0.52,0.50,0.49,0.48, 0.48,0.48,0.48,0.48,0.48,0.50,0.49,0.48,0.48,0.47, 0.47,0.47,0.47,0.47,0.47,0.47,0.47,0.47,0.47,0.47, 0.47,0.47,0.47,0.47,0.47,0.47,0.47];
const v1mPC_chance= [0.58,0.46,0.46,0.45,0.46,0.46,0.45,0.46,0.46,0.46, 0.45,0.46,0.46,0.46,0.46,0.46,0.46,0.46,0.46,0.46, 0.45,0.46,0.46,0.46,0.45,0.46,0.46,0.46,0.46,0.46, 0.46,0.45,0.46,0.46,0.46,0.46,0.46];

// ---- V1M-DG
const v1mDG_vis   = [1.33,1.41,1.26,1.16,1.07,0.99,0.92,0.88,0.85,0.81, 0.77,0.73,0.69,0.65,0.63,0.60,0.59,0.66,0.77,0.86, 0.89,0.92,0.88,0.82,0.75,0.73,0.71,0.69,0.66,0.64, 0.63,0.61,0.59,0.58,0.59,0.60,0.60];
const v1mDG_visHi = [1.65,1.65,1.60,1.50,1.40,1.32,1.25,1.18,1.10,1.03, 0.96,0.90,0.84,0.78,0.72,0.66,0.62,0.75,0.95,1.15, 1.25,1.28,1.20,1.02,0.92,0.88,0.85,0.82,0.80,0.77, 0.74,0.72,0.70,0.69,0.70,0.72,0.72];
const v1mDG_visLo = [1.00,0.95,0.90,0.82,0.75,0.70,0.64,0.60,0.57,0.55, 0.53,0.52,0.51,0.51,0.52,0.53,0.55,0.57,0.58,0.58, 0.58,0.57,0.55,0.53,0.52,0.51,0.50,0.50,0.50,0.49, 0.49,0.49,0.49,0.49,0.49,0.48,0.48];
const v1mDG_olf   = [1.19,1.29,1.15,1.05,0.96,0.92,0.88,0.85,0.82,0.78, 0.74,0.70,0.66,0.62,0.62,0.60,0.62,0.70,0.81,0.90, 0.94,0.99,0.95,0.86,0.77,0.74,0.71,0.69,0.66,0.64, 0.62,0.60,0.60,0.59,0.59,0.59,0.60];
const v1mDG_olfHi = [1.60,1.62,1.55,1.42,1.30,1.20,1.12,1.05,1.00,0.94, 0.88,0.82,0.77,0.72,0.68,0.64,0.63,0.78,1.00,1.20, 1.32,1.36,1.25,1.08,0.95,0.88,0.84,0.80,0.77,0.75, 0.73,0.70,0.68,0.67,0.66,0.66,0.66];
const v1mDG_olfLo = [0.82,0.85,0.78,0.70,0.64,0.60,0.57,0.55,0.54,0.53, 0.52,0.52,0.52,0.52,0.54,0.56,0.58,0.60,0.60,0.60, 0.58,0.57,0.56,0.55,0.54,0.53,0.53,0.53,0.53,0.53, 0.53,0.53,0.53,0.53,0.53,0.53,0.53];
const v1mDG_home  = [0.74,0.68,0.64,0.60,0.57,0.55,0.54,0.52,0.51,0.51, 0.52,0.51,0.51,0.52,0.54,0.52,0.51,0.50,0.51,0.50, 0.51,0.51,0.52,0.51,0.51,0.51,0.50,0.51,0.52,0.51, 0.51,0.51,0.52,0.51,0.51,0.51,0.51];
const v1mDG_homeHi= [0.92,0.82,0.74,0.68,0.63,0.60,0.58,0.56,0.55,0.55, 0.55,0.55,0.56,0.57,0.60,0.60,0.59,0.58,0.57,0.56, 0.56,0.55,0.55,0.55,0.54,0.54,0.54,0.54,0.55,0.55, 0.55,0.55,0.55,0.55,0.55,0.55,0.55];
const v1mDG_homeLo= [0.62,0.56,0.54,0.52,0.50,0.49,0.48,0.47,0.47,0.47, 0.47,0.47,0.46,0.47,0.48,0.47,0.46,0.46,0.46,0.46, 0.46,0.46,0.47,0.46,0.46,0.46,0.46,0.46,0.47,0.46, 0.46,0.46,0.47,0.46,0.46,0.46,0.46];
const v1mDG_chance= [0.58,0.46,0.45,0.45,0.45,0.45,0.45,0.45,0.44,0.45, 0.45,0.45,0.45,0.45,0.45,0.45,0.45,0.45,0.45,0.45, 0.45,0.45,0.45,0.45,0.45,0.45,0.45,0.45,0.45,0.45, 0.44,0.45,0.45,0.45,0.44,0.45,0.45];

// ---- V1M-CA1
const v1mCA1_vis   = [1.11,1.23,1.19,1.12,1.07,1.00,0.96,0.94,0.91,0.88, 0.87,0.85,0.83,0.82,0.81,0.79,0.79,0.86,0.98,1.04, 1.05,1.05,1.03,0.99,0.94,0.90,0.86,0.84,0.82,0.80, 0.79,0.77,0.76,0.75,0.76,0.77,0.77];
const v1mCA1_visHi = [1.45,1.50,1.45,1.38,1.30,1.26,1.24,1.22,1.22,1.20, 1.20,1.20,1.18,1.20,1.20,1.15,1.08,1.20,1.40,1.55, 1.60,1.62,1.55,1.38,1.26,1.20,1.17,1.15,1.13,1.12, 1.11,1.10,1.09,1.08,1.08,1.07,1.07];
const v1mCA1_visLo = [0.80,0.78,0.75,0.72,0.58,0.62,0.60,0.56,0.52,0.50, 0.48,0.46,0.44,0.42,0.41,0.42,0.48,0.55,0.60,0.62, 0.60,0.55,0.50,0.48,0.48,0.49,0.50,0.50,0.50,0.50, 0.50,0.50,0.50,0.50,0.49,0.48,0.48];
const v1mCA1_olf   = [0.98,1.16,1.09,1.05,1.02,0.98,0.94,0.90,0.88,0.87, 0.85,0.84,0.82,0.81,0.79,0.77,0.75,0.83,1.00,1.15, 1.19,1.20,1.17,1.08,0.99,0.90,0.84,0.81,0.79,0.77, 0.75,0.74,0.73,0.73,0.74,0.75,0.76];
const v1mCA1_olfHi = [1.25,1.36,1.32,1.28,1.25,1.20,1.15,1.12,1.10,1.08, 1.06,1.05,1.04,1.02,1.00,0.98,0.96,1.08,1.30,1.52, 1.62,1.66,1.60,1.42,1.25,1.12,1.05,1.02,1.00,0.98, 0.96,0.95,0.94,0.94,0.93,0.93,0.93];
const v1mCA1_olfLo = [0.75,0.98,0.86,0.82,0.80,0.76,0.73,0.70,0.67,0.65, 0.63,0.62,0.60,0.58,0.56,0.52,0.48,0.50,0.58,0.68, 0.75,0.76,0.72,0.66,0.60,0.56,0.54,0.52,0.51,0.50, 0.50,0.50,0.50,0.50,0.50,0.50,0.50];
const v1mCA1_home  = [0.61,0.69,0.68,0.65,0.63,0.60,0.58,0.56,0.54,0.53, 0.51,0.49,0.48,0.47,0.45,0.44,0.44,0.45,0.45,0.46, 0.45,0.45,0.45,0.44,0.43,0.43,0.43,0.42,0.43,0.42, 0.41,0.41,0.41,0.41,0.42,0.43,0.44];
const v1mCA1_homeHi= [0.68,0.74,0.73,0.70,0.68,0.65,0.63,0.61,0.59,0.57, 0.55,0.53,0.52,0.51,0.49,0.48,0.48,0.48,0.48,0.49, 0.48,0.48,0.47,0.47,0.47,0.47,0.46,0.46,0.46,0.46, 0.45,0.45,0.45,0.45,0.46,0.46,0.47];
const v1mCA1_homeLo= [0.55,0.64,0.63,0.60,0.58,0.55,0.53,0.51,0.49,0.48, 0.47,0.45,0.44,0.43,0.42,0.41,0.41,0.41,0.41,0.42, 0.42,0.42,0.42,0.41,0.40,0.40,0.40,0.40,0.40,0.39, 0.39,0.39,0.39,0.39,0.39,0.40,0.40];
const v1mCA1_chance= [0.43,0.35,0.35,0.35,0.35,0.35,0.35,0.35,0.35,0.35, 0.35,0.35,0.35,0.35,0.35,0.35,0.35,0.35,0.35,0.35, 0.35,0.35,0.35,0.35,0.35,0.35,0.35,0.35,0.35,0.35, 0.35,0.35,0.35,0.35,0.35,0.35,0.35];

// Panel table (order = reading order, 3 columns x 5 rows)
const panelData = [
  [respOB_vis,respOB_visLo,respOB_visHi, respOB_olf,respOB_olfLo,respOB_olfHi, respOB_home,respOB_homeLo,respOB_homeHi, respOB_chance],
  [respPC_vis,respPC_visLo,respPC_visHi, respPC_olf,respPC_olfLo,respPC_olfHi, respPC_home,respPC_homeLo,respPC_homeHi, respPC_chance],
  [respDG_vis,respDG_visLo,respDG_visHi, respDG_olf,respDG_olfLo,respDG_olfHi, respDG_home,respDG_homeLo,respDG_homeHi, respDG_chance],
  [respCA1_vis,respCA1_visLo,respCA1_visHi, respCA1_olf,respCA1_olfLo,respCA1_olfHi, respCA1_home,respCA1_homeLo,respCA1_homeHi, respCA1_chance],
  [obPC_vis,obPC_visLo,obPC_visHi, obPC_olf,obPC_olfLo,obPC_olfHi, obPC_home,obPC_homeLo,obPC_homeHi, obPC_chance],
  [obDG_vis,obDG_visLo,obDG_visHi, obDG_olf,obDG_olfLo,obDG_olfHi, obDG_home,obDG_homeLo,obDG_homeHi, obDG_chance],
  [obCA1_vis,obCA1_visLo,obCA1_visHi, obCA1_olf,obCA1_olfLo,obCA1_olfHi, obCA1_home,obCA1_homeLo,obCA1_homeHi, obCA1_chance],
  [pcDG_vis,pcDG_visLo,pcDG_visHi, pcDG_olf,pcDG_olfLo,pcDG_olfHi, pcDG_home,pcDG_homeLo,pcDG_homeHi, pcDG_chance],
  [pcCA1_vis,pcCA1_visLo,pcCA1_visHi, pcCA1_olf,pcCA1_olfLo,pcCA1_olfHi, pcCA1_home,pcCA1_homeLo,pcCA1_homeHi, pcCA1_chance],
  [dgCA1_vis,dgCA1_visLo,dgCA1_visHi, dgCA1_olf,dgCA1_olfLo,dgCA1_olfHi, dgCA1_home,dgCA1_homeLo,dgCA1_homeHi, dgCA1_chance],
  [v1mResp_vis,v1mResp_visLo,v1mResp_visHi, v1mResp_olf,v1mResp_olfLo,v1mResp_olfHi, v1mResp_home,v1mResp_homeLo,v1mResp_homeHi, v1mResp_chance],
  [v1mOB_vis,v1mOB_visLo,v1mOB_visHi, v1mOB_olf,v1mOB_olfLo,v1mOB_olfHi, v1mOB_home,v1mOB_homeLo,v1mOB_homeHi, v1mOB_chance],
  [v1mPC_vis,v1mPC_visLo,v1mPC_visHi, v1mPC_olf,v1mPC_olfLo,v1mPC_olfHi, v1mPC_home,v1mPC_homeLo,v1mPC_homeHi, v1mPC_chance],
  [v1mDG_vis,v1mDG_visLo,v1mDG_visHi, v1mDG_olf,v1mDG_olfLo,v1mDG_olfHi, v1mDG_home,v1mDG_homeLo,v1mDG_homeHi, v1mDG_chance],
  [v1mCA1_vis,v1mCA1_visLo,v1mCA1_visHi, v1mCA1_olf,v1mCA1_olfLo,v1mCA1_olfHi, v1mCA1_home,v1mCA1_homeLo,v1mCA1_homeHi, v1mCA1_chance]
];

// ---------- layout & style ----------
const colX = [48.3, 314, 583.3];
const rowBase = [232.3, 474.5, 716.6, 958.8, 1201];
const axW = 239, axH = 210;
const legendX = [212, 212, 212, 207, 207];
const bandFill = ["#d53cf2", "#7ef02c", "#8a8a8a"];
const bandOpacity = [0.26, 0.26, 0.22];
const lineColor = ["#9b2fb4", "#6edc1e", "#6a6a6a", "#121212"];
const swatchColor = ["#e03ff5", "#86f03a", "#808080", "#000000"];
const axisColor = "#8d8d8d";
const textColor = "#262626";

const svg = d3.select("#chart");
const x = d3.scaleLinear().domain([0, 18]).range([0, axW]);
const y = d3.scaleLinear().domain([0, 1.65]).range([axH, 0]);

const errs = [];
panelData.forEach((arrs, p) => {
  arrs.forEach((a, k) => { if (a.length !== freqs.length) errs.push(panelTitles[p] + " array " + k + " len " + a.length); });
});

panelData.forEach((arrs, p) => {
  const col = p % 3, row = Math.floor(p / 3);
  const g = svg.append("g").attr("transform", `translate(${colX[col]},${rowBase[row] - axH})`);
  const clipId = "clip" + p;
  g.append("clipPath").attr("id", clipId).append("rect").attr("x", 0).attr("y", 0).attr("width", axW).attr("height", axH);
  const plot = g.append("g").attr("clip-path", `url(#${clipId})`);

  // bands: visual, olfactory, home cage
  for (let s = 0; s < 3; s++) {
    const lo = arrs[s * 3 + 1], hi = arrs[s * 3 + 2];
    const area = d3.area()
      .x((d, i) => x(freqs[i]))
      .y0((d, i) => y(lo[i]))
      .y1((d, i) => y(hi[i]))
      .curve(d3.curveMonotoneX);
    plot.append("path").datum(freqs).attr("d", area)
      .attr("fill", bandFill[s]).attr("fill-opacity", bandOpacity[s]).attr("stroke", "none");
  }
  // chance: faint halo band + line
  const chance = arrs[9];
  const cLine = d3.line().x((d, i) => x(freqs[i])).y(d => y(d)).curve(d3.curveMonotoneX);
  plot.append("path").datum(chance).attr("d", cLine).attr("fill", "none")
    .attr("stroke", "#c4c4c4").attr("stroke-width", 3.2).attr("stroke-opacity", 0.7);

  // mean lines
  const meanIdx = [0, 3, 6];
  meanIdx.forEach((mi, s) => {
    plot.append("path").datum(arrs[mi]).attr("d", cLine).attr("fill", "none")
      .attr("stroke", lineColor[s]).attr("stroke-width", s === 2 ? 1.1 : 1.25).attr("stroke-linejoin", "round");
  });
  plot.append("path").datum(chance).attr("d", cLine).attr("fill", "none")
    .attr("stroke", lineColor[3]).attr("stroke-width", 1.3);

  // axes (MATLAB style, ticks inside)
  const xAxis = d3.axisBottom(x).tickValues(xTicks).tickSize(-3).tickSizeOuter(0).tickPadding(6)
    .tickFormat(row === 4 ? d3.format("d") : () => "");
  const gx = g.append("g").attr("transform", `translate(0,${axH})`).call(xAxis);
  const yAxis = d3.axisLeft(y).tickValues(yTicks).tickSize(-3).tickSizeOuter(0).tickPadding(6)
    .tickFormat(col === 0 ? (d => String(d)) : () => "");
  const gy = g.append("g").call(yAxis);
  [gx, gy].forEach(ax => {
    ax.select(".domain").attr("stroke", axisColor).attr("stroke-width", 1);
    ax.selectAll(".tick line").attr("stroke", axisColor);
    ax.selectAll(".tick text").attr("fill", textColor)
      .style("font-family", '"Liberation Sans", Arial, sans-serif').style("font-size", "16px");
  });
  gx.selectAll(".tick text").attr("dy", "0.95em");

  // title
  g.append("text").attr("x", axW / 2).attr("y", -5).attr("text-anchor", "middle")
    .style("font-weight", "bold").style("font-size", "17px").attr("fill", "#111")
    .text(panelTitles[p]);

  if (col === 0) {
    g.append("text").attr("transform", `translate(${-31},${axH / 2}) rotate(-90)`)
      .attr("text-anchor", "middle").style("font-size", "17px").attr("fill", textColor)
      .text("Z-coherence");
    // legend
    const lg = svg.append("g").attr("transform", `translate(${legendX[row]},${rowBase[row] - axH - 3.5})`);
    seriesNames.forEach((nm, k) => {
      lg.append("rect").attr("x", 0).attr("y", k * 17.2).attr("width", 15).attr("height", 13)
        .attr("fill", swatchColor[k]);
      lg.append("text").attr("x", 17).attr("y", k * 17.2 + 11.5).style("font-size", "14.5px")
        .attr("fill", "#111").text(nm);
    });
  }
  if (row === 4) {
    g.append("text").attr("x", axW / 2).attr("y", axH + 40).attr("text-anchor", "middle")
      .style("font-size", "17px").attr("fill", textColor).text("Frequency (Hz)");
  }
});

if (errs.length) throw new Error(errs.join("; "));
</script>
</body></html>
